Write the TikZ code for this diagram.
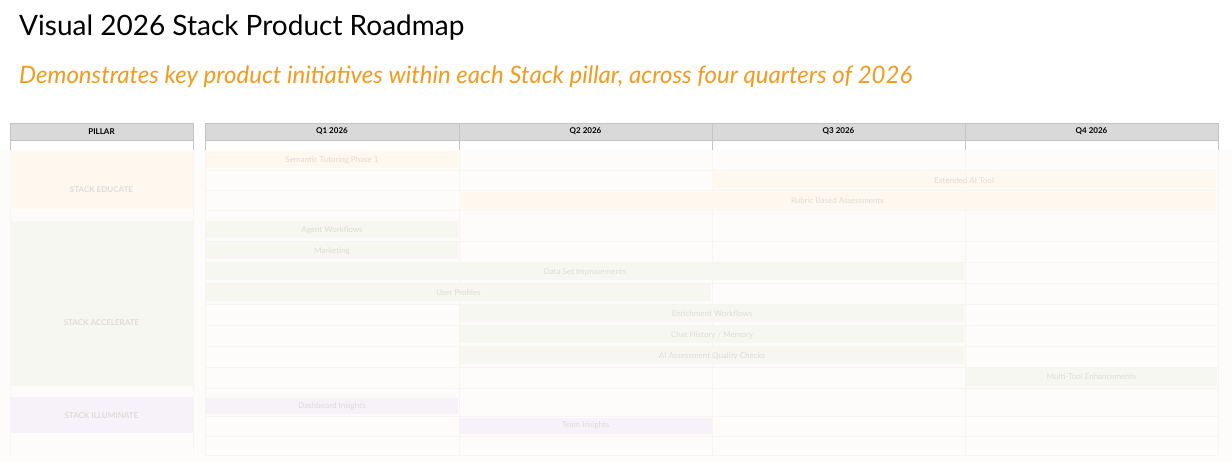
\documentclass[tikz,border=0pt]{standalone}
\usepackage{fontspec}
\setmainfont{Lato}
\definecolor{headgray}{HTML}{D9D9D9}
\definecolor{headline}{HTML}{C4C4C4}
\definecolor{subtitle}{HTML}{F29B1C}
\definecolor{bodybg}{HTML}{FEFCFB}
\definecolor{fadeline}{HTML}{F7F4F2}
\definecolor{fadetext}{HTML}{DFDBD8}
\definecolor{edufill}{HTML}{FFF8EE}
\definecolor{accfill}{HTML}{F7F7F2}
\definecolor{illfill}{HTML}{F7F2F9}
\begin{document}
\begin{tikzpicture}[x=1pt,y=-1pt,
    hcell/.style={draw=headline,fill=headgray,minimum height=17pt,inner sep=0pt,
      font=\fontsize{8}{9}\selectfont\bfseries},
    bar/.style={minimum height=17pt,inner sep=0pt,text=fadetext,
      font=\fontsize{8}{9}\selectfont},
    edubar/.style={bar,fill=edufill},
    accbar/.style={bar,fill=accfill},
    illbar/.style={bar,fill=illfill},
    pillarbox/.style={minimum width=183pt,inner sep=0pt},
    pillarlabel/.style={text=fadetext,font=\fontsize{8}{9}\selectfont\bfseries}]
  \useasboundingbox[fill=white] (0,0) rectangle (1232,462);
  \fill[bodybg] (0,150) rectangle (1232,462);

  % titles
  \node[anchor=west,inner sep=0pt,font=\fontsize{28}{32}\selectfont] (title)
    at (19,28) {Visual 2026 Stack Product Roadmap};
  \node[anchor=west,inner sep=0pt,text=subtitle,font=\fontsize{24}{28}\selectfont\itshape] (subtitle)
    at (19,77) {Demonstrates key product initiatives within each Stack pillar, across four quarters of 2026};

  % header row
  \node[hcell,minimum width=183pt] (pillar) at (101.5,131.5) {PILLAR};
  \node[hcell,minimum width=254pt] (q1) at (332,131.5) {Q1 2026};
  \node[hcell,minimum width=253pt] (q2) at (585.5,131.5) {Q2 2026};
  \node[hcell,minimum width=253pt] (q3) at (838.5,131.5) {Q3 2026};
  \node[hcell,minimum width=253pt] (q4) at (1091.5,131.5) {Q4 2026};

  % column lines
  \foreach \x in {10,193,205,459,712,965,1218} {
    \draw[headline,line width=0.6pt] (\x,140) -- (\x,150);
    \draw[fadeline,line width=0.6pt] (\x,150) -- (\x,455);
  }
  \foreach \y in {170,190,210,241,262,283,304,325,346,367,388,416,436,455}
    \draw[fadeline,line width=0.5pt] (205,\y) -- (1218,\y);

  % pillars
  \node[pillarbox,fill=edufill,minimum height=57pt] (educate) at (101.5,180.5) {};
  \node[pillarlabel] (educatelabel) at (101.5,190) {STACK EDUCATE};
  \node[pillarbox,fill=accfill,minimum height=165pt] (accelerate) at (101.5,303.5) {};
  \node[pillarlabel] (acceleratelabel) at (101.5,323) {STACK ACCELERATE};
  \node[pillarbox,fill=illfill,minimum height=36pt] (illuminate) at (101.5,415) {};
  \node[pillarlabel] (illuminatelabel) at (101.5,416) {STACK ILLUMINATE};

  % stack educate
  \node[edubar,minimum width=252pt] (tutoring) at (332,160) {Semantic Tutoring Phase 1};
  \node[edubar,minimum width=504pt] (aitool) at (964,181) {Extended AI Tool};
  \node[edubar,minimum width=757pt] (rubric) at (837.5,201) {Rubric Based Assessments};

  % stack accelerate
  \node[accbar,minimum width=252pt] (agent) at (332,230) {Agent Workflows};
  \node[accbar,minimum width=252pt] (marketing) at (332,251) {Marketing};
  \node[accbar,minimum width=758pt] (dataset) at (585,272) {Data Set Improvements};
  \node[accbar,minimum width=505pt] (profiles) at (458.5,293) {User Profiles};
  \node[accbar,minimum width=504pt] (enrich) at (712,314) {Enrichment Workflows};
  \node[accbar,minimum width=504pt] (history) at (712,335) {Chat History / Memory};
  \node[accbar,minimum width=504pt] (quality) at (712,356) {AI Assessment Quality Checks};
  \node[accbar,minimum width=251pt] (multi) at (1091.5,377) {Multi-Tool Enhancements};

  % stack illuminate
  \node[illbar,minimum width=252pt,minimum height=16pt] (dashboard) at (332,406) {Dashboard Insights};
  \node[illbar,minimum width=252pt,minimum height=16pt] (team) at (585.5,425.5) {Team Insights};
\end{tikzpicture}
\end{document}
